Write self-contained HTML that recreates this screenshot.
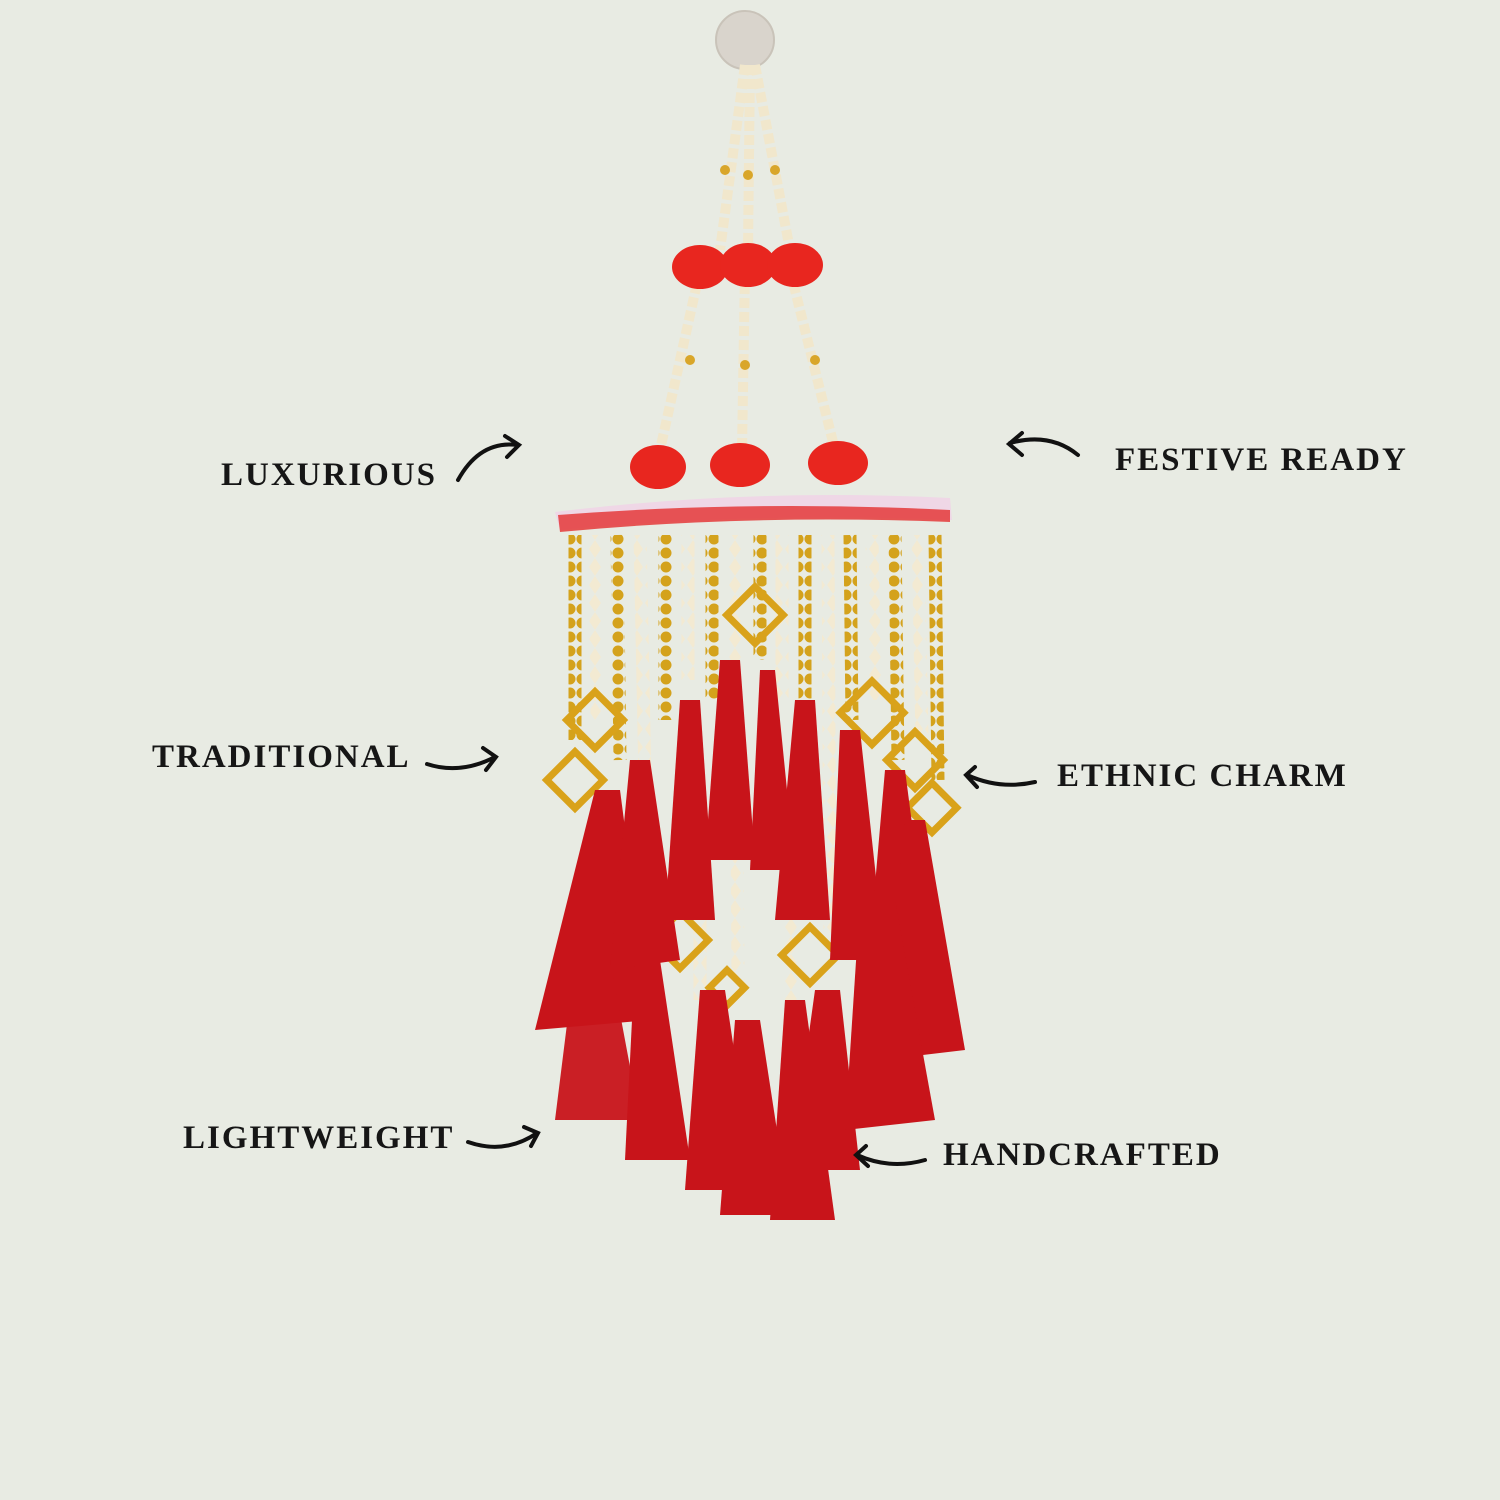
<!DOCTYPE html>
<html><head><meta charset="utf-8"><style>
html,body{margin:0;padding:0}
body{width:1500px;height:1500px;background:#e8ebe3;position:relative;overflow:hidden;font-family:"Liberation Serif",serif}
.t{position:absolute;font-weight:bold;font-size:33px;letter-spacing:2px;color:#161616;white-space:nowrap}
svg{position:absolute;left:0;top:0}
</style></head><body>
<svg width="1500" height="1500" viewBox="0 0 1500 1500">
<defs>
<pattern id="bd" width="14" height="18" patternUnits="userSpaceOnUse">
<polygon points="7,0 13,9 7,18 1,9" fill="#f3ead2"/>
</pattern>
<pattern id="gd" width="12" height="14" patternUnits="userSpaceOnUse">
<circle cx="6" cy="7" r="5.5" fill="#d4a21c"/>
</pattern>
</defs>
<circle cx="745" cy="40" r="29" fill="#d9d4cc" stroke="#c9c3b9" stroke-width="2"/>
<g stroke-width="10" fill="none" stroke="#f1e7cc" stroke-dasharray="10 4">
<line x1="745" y1="65" x2="720" y2="250"/>
<line x1="750" y1="65" x2="748" y2="250"/>
<line x1="755" y1="65" x2="790" y2="250"/>
<line x1="700" y1="270" x2="660" y2="450"/>
<line x1="745" y1="270" x2="742" y2="450"/>
<line x1="790" y1="270" x2="835" y2="450"/>
</g>
<g fill="#d9a62a"><circle cx="725" cy="170" r="5"/><circle cx="748" cy="175" r="5"/><circle cx="775" cy="170" r="5"/><circle cx="690" cy="360" r="5"/><circle cx="745" cy="365" r="5"/><circle cx="815" cy="360" r="5"/></g>
<g fill="#e8261f">
<ellipse cx="700" cy="267" rx="28" ry="22"/><ellipse cx="748" cy="265" rx="28" ry="22"/><ellipse cx="795" cy="265" rx="28" ry="22"/>
<ellipse cx="658" cy="467" rx="28" ry="22"/><ellipse cx="740" cy="465" rx="30" ry="22"/><ellipse cx="838" cy="463" rx="30" ry="22"/>
</g>
<path d="M555 512 Q750 488 950 498 L952 520 Q750 512 560 530 Z" fill="#efd7e6"/>
<path d="M558 515 Q750 500 950 510 L950 522 Q750 514 560 532 Z" fill="#e43a3a" opacity="0.85"/>
<g stroke-width="13">
<line x1="575" y1="535" x2="575" y2="740" stroke="url(#gd)"/>
<line x1="595" y1="535" x2="597" y2="720" stroke="url(#bd)"/>
<line x1="617" y1="535" x2="620" y2="760" stroke="url(#gd)"/>
<line x1="640" y1="535" x2="645" y2="780" stroke="url(#bd)"/>
<line x1="665" y1="535" x2="665" y2="720" stroke="url(#gd)"/>
<line x1="688" y1="535" x2="688" y2="680" stroke="url(#bd)"/>
<line x1="712" y1="535" x2="712" y2="700" stroke="url(#gd)"/>
<line x1="735" y1="535" x2="738" y2="980" stroke="url(#bd)"/>
<line x1="760" y1="535" x2="760" y2="660" stroke="url(#gd)"/>
<line x1="782" y1="535" x2="782" y2="700" stroke="url(#bd)"/>
<line x1="805" y1="535" x2="805" y2="700" stroke="url(#gd)"/>
<line x1="828" y1="535" x2="830" y2="940" stroke="url(#bd)"/>
<line x1="850" y1="535" x2="852" y2="720" stroke="url(#gd)"/>
<line x1="872" y1="535" x2="875" y2="700" stroke="url(#bd)"/>
<line x1="895" y1="535" x2="898" y2="760" stroke="url(#gd)"/>
<line x1="918" y1="535" x2="922" y2="740" stroke="url(#bd)"/>
<line x1="935" y1="535" x2="938" y2="780" stroke="url(#gd)"/>
<line x1="700" y1="880" x2="700" y2="1000" stroke="url(#bd)"/>
<line x1="790" y1="870" x2="790" y2="1020" stroke="url(#bd)"/>
</g>
<g fill="none" stroke="#d9a21a" stroke-width="7">
<rect x="735" y="595" width="40" height="40" transform="rotate(45 755 615)"/>
<rect x="575" y="700" width="40" height="40" transform="rotate(45 595 720)"/>
<rect x="555" y="760" width="40" height="40" transform="rotate(45 575 780)"/>
<rect x="850" y="690" width="45" height="45" transform="rotate(45 872 712)"/>
<rect x="895" y="740" width="40" height="40" transform="rotate(45 915 760)"/>
<rect x="915" y="790" width="35" height="35" transform="rotate(45 932 807)"/>
<rect x="660" y="920" width="40" height="40" transform="rotate(45 680 940)"/>
<rect x="790" y="935" width="40" height="40" transform="rotate(45 810 955)"/>
<rect x="715" y="975" width="25" height="25" transform="rotate(45 727 987)"/>
</g>
<g fill="#c8141a">
<path d="M595 790 L620 790 L650 1020 L535 1030 Z"/>
<path d="M630 760 L650 760 L680 960 L610 970 Z"/>
<path d="M680 700 L700 700 L715 920 L665 920 Z"/>
<path d="M720 660 L740 660 L755 860 L705 860 Z"/>
<path d="M760 670 L775 670 L795 870 L750 870 Z"/>
<path d="M795 700 L815 700 L830 920 L775 920 Z"/>
<path d="M840 730 L860 730 L885 960 L830 960 Z"/>
<path d="M885 770 L905 770 L935 1000 L865 1000 Z"/>
<path d="M905 820 L925 820 L965 1050 L880 1060 Z"/>
<path d="M575 960 L610 960 L640 1120 L555 1120 Z" opacity=".95"/>
<path d="M635 960 L660 960 L690 1160 L625 1160 Z"/>
<path d="M700 990 L725 990 L755 1190 L685 1190 Z"/>
<path d="M735 1020 L760 1020 L790 1215 L720 1215 Z"/>
<path d="M785 1000 L805 1000 L835 1220 L770 1220 Z"/>
<path d="M815 990 L840 990 L860 1170 L790 1170 Z"/>
<path d="M860 900 L895 900 L935 1120 L845 1130 Z"/>
</g>
<g fill="none" stroke="#111" stroke-width="4" stroke-linecap="round">
<path d="M458 480 Q480 440 518 445"/><path d="M505 436 L519 445 L507 457"/>
<path d="M1078 455 Q1050 432 1010 443"/><path d="M1022 433 L1009 444 L1022 455"/>
<path d="M427 764 Q460 775 495 757"/><path d="M483 748 L496 757 L486 770"/>
<path d="M1035 782 Q1000 790 967 775"/><path d="M975 767 L966 775 L977 787"/>
<path d="M468 1142 Q505 1155 537 1133"/><path d="M524 1127 L538 1133 L531 1146"/>
<path d="M925 1160 Q890 1170 857 1155"/><path d="M866 1146 L856 1155 L868 1166"/>
</g>
</svg>
<div class="t" style="left:221px;top:457px">LUXURIOUS</div>
<div class="t" style="left:1115px;top:442px">FESTIVE READY</div>
<div class="t" style="left:152px;top:739px">TRADITIONAL</div>
<div class="t" style="left:1057px;top:758px">ETHNIC CHARM</div>
<div class="t" style="left:183px;top:1120px">LIGHTWEIGHT</div>
<div class="t" style="left:943px;top:1137px">HANDCRAFTED</div>
</body></html>
